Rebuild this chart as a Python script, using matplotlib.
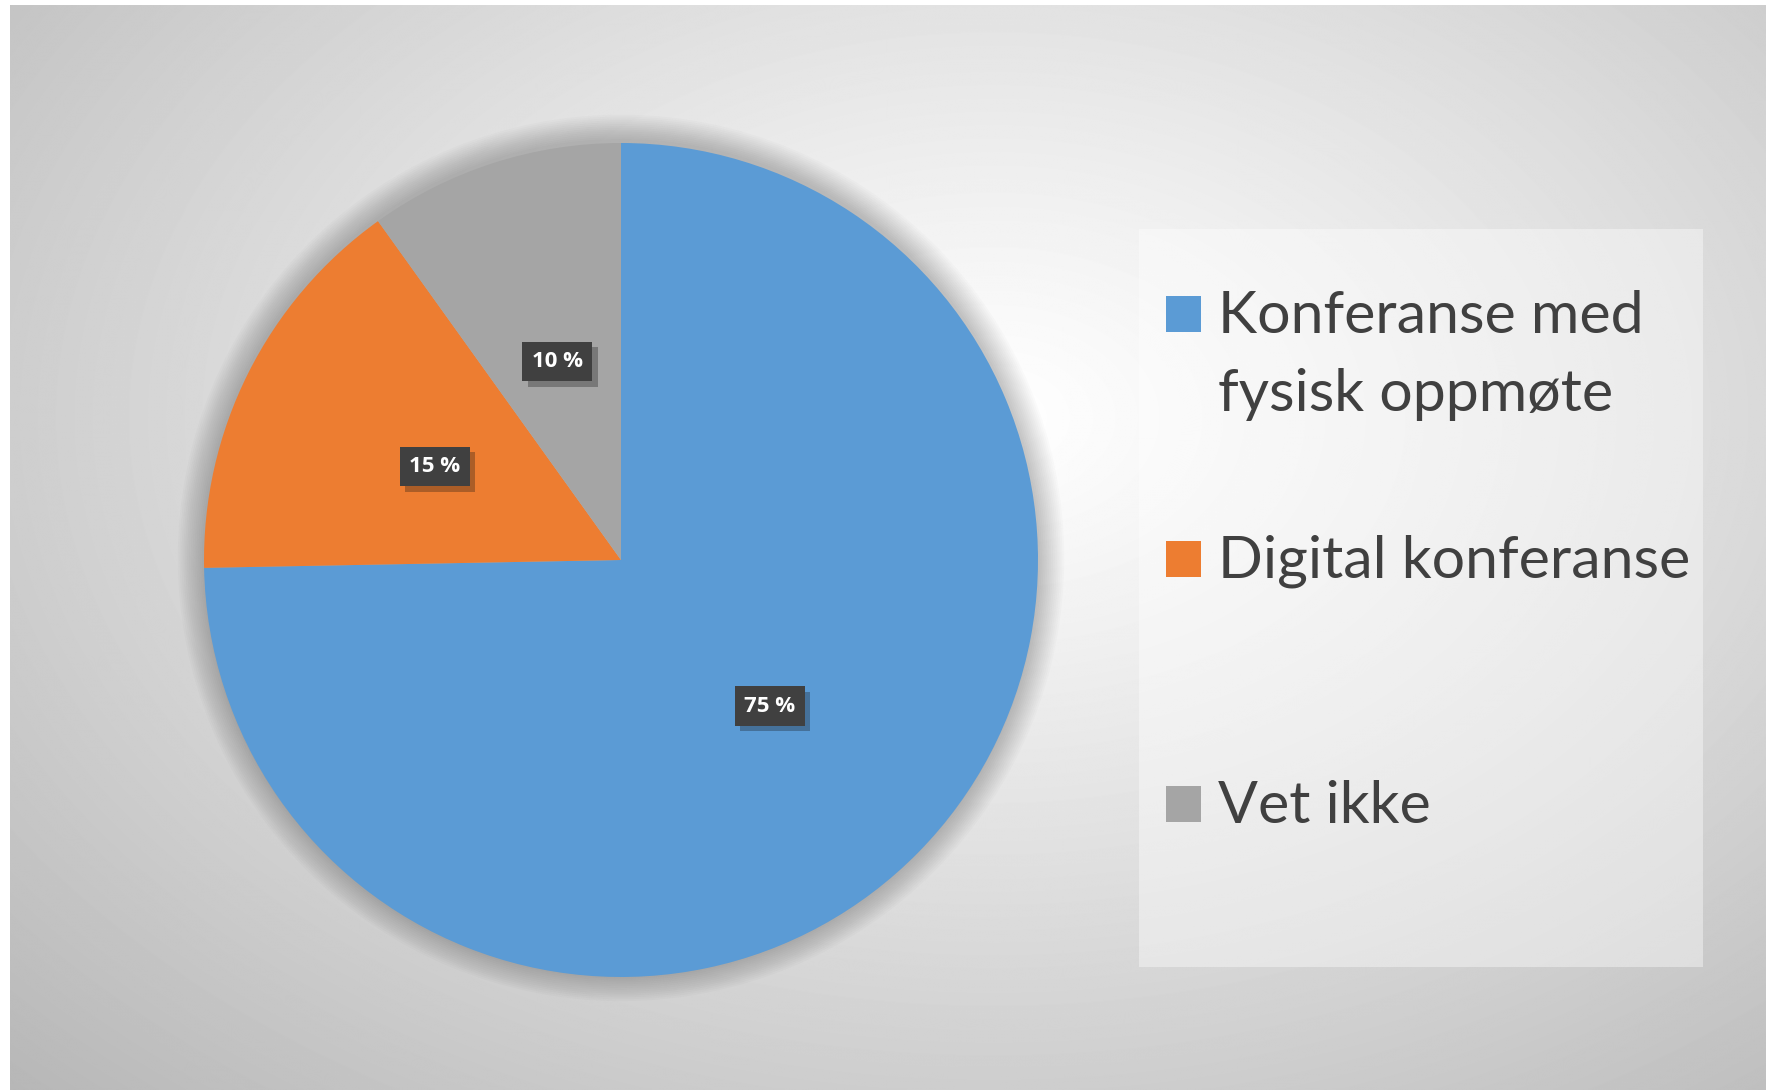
import numpy as np
import matplotlib.pyplot as plt
from matplotlib.patches import Rectangle, Circle
import matplotlib.patheffects as pe

labels = ['Konferanse med\nfysisk oppmøte', 'Digital konferanse', 'Vet ikke']
shares = [74.7, 15.4, 9.9]
colors = ['#5B9BD5', '#ED7D31', '#A5A5A5']

W, H = 1766, 1090
fig = plt.figure(figsize=(W / 100, H / 100), dpi=100)
fig.patch.set_facecolor('white')

# radial grey background
bg = fig.add_axes([10 / W, 0, 1 - 10 / W, (H - 5) / H])
yy, xx = np.mgrid[0:H, 0:W]
r = np.sqrt(((xx - W * 0.56) / (W * 0.5)) ** 2 + ((yy - H * 0.38) / (H * 0.55)) ** 2) / np.sqrt(2)
shade = np.clip(1.0 - 0.25 * r ** 1.1, 0, 1)
bg.imshow(shade, cmap='gray', vmin=0, vmax=1, aspect='auto', interpolation='bilinear')
bg.axis('off')

# pie
cx, cy, rad = 621, 560, 417
ax = fig.add_axes([(cx - rad) / W, (H - cy - rad) / H, 2 * rad / W, 2 * rad / H])

# soft shadow around the pie
for k in range(14):
    ax.add_patch(Circle((0, 0.005), 1.0 + 0.0045 * (k + 1), color='black', alpha=0.015,
                        lw=0, zorder=0, clip_on=False))

wedges, texts, autotexts = ax.pie(shares, colors=colors, startangle=90, counterclock=False,
                                  radius=1, autopct=lambda p: f'{p:.0f} %', pctdistance=0.5,
                                  wedgeprops=dict(linewidth=0),
                                  textprops=dict(color='white', fontsize=16, fontweight='bold',
                                                 family='Open Sans'))
ax.set_xlim(-1, 1)
ax.set_ylim(-1, 1)
ax.axis('off')
for t in autotexts:
    t.set_bbox(dict(boxstyle='square,pad=0.42', facecolor='#404040', edgecolor='none'))
    t.get_bbox_patch().set_path_effects([pe.SimplePatchShadow(offset=(4, -4), alpha=0.3),
                                         pe.Normal()])

# legend panel
fig.patches.append(Rectangle((1139 / W, (H - 967) / H), (1703 - 1139) / W, (967 - 229) / H,
                             transform=fig.transFigure, facecolor='white', alpha=0.4,
                             edgecolor='none', zorder=1))
baselines = [333, 578, 823]
for lab, col, yb in zip(labels, colors, baselines):
    fig.patches.append(Rectangle((1166 / W, (H - yb + 1) / H), 35 / W, 36 / H,
                                 transform=fig.transFigure, facecolor=col,
                                 edgecolor='none', zorder=2))
    for i, line in enumerate(lab.split('\n')):
        fig.text(1218 / W, (H - yb - 78 * i) / H, line, fontsize=42.5, color='#404040',
                 family='Lato', va='baseline', ha='left', zorder=3)

fig.savefig('out.png', dpi=100)
